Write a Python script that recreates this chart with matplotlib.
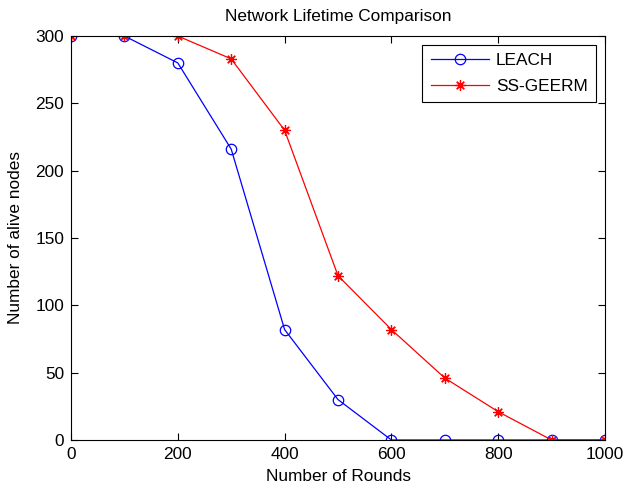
import matplotlib
matplotlib.use('Agg')
import matplotlib.pyplot as plt

plt.rcParams['font.family'] = ['Liberation Sans', 'DejaVu Sans']

rounds = [0, 100, 200, 300, 400, 500, 600, 700, 800, 900, 1000]
leach = [300, 300, 280, 216, 82, 30, 0, 0, 0, 0, 0]
ss_geerm = [300, 300, 300, 283, 230, 122, 82, 46, 21, 0, 0]

fs = 12.4

fig = plt.figure(figsize=(6.25, 4.91), dpi=100)
ax = fig.add_axes([0.1136, 0.1039, 0.8544, 0.8228])

ax.plot(rounds, leach, color='blue', linewidth=0.9, marker='o', markersize=7.5,
        markerfacecolor='none', markeredgecolor='blue', markeredgewidth=0.9, label='LEACH')
ax.plot(rounds, ss_geerm, color='red', linewidth=0.9, marker=(8, 2, 0), markersize=7.5,
        markeredgecolor='red', markeredgewidth=0.9, label='SS-GEERM')

ax.set_xlim(0, 1000)
ax.set_ylim(0, 300)
ax.set_xticks(range(0, 1001, 200))
ax.set_yticks(range(0, 301, 50))
ax.tick_params(direction='in', top=True, right=True, labelsize=fs, length=5, width=0.8, pad=5)
for s in ax.spines.values():
    s.set_linewidth(0.8)

ax.set_title('Network Lifetime Comparison', fontsize=fs, pad=11)
ax.set_xlabel('Number of Rounds', fontsize=fs, labelpad=5)
ax.set_ylabel('Number of alive nodes', fontsize=fs, labelpad=9)

leg = ax.legend(loc='upper right', fontsize=fs, fancybox=False, edgecolor='black',
                framealpha=1, borderaxespad=0.5, handlelength=3.4, handletextpad=0.4,
                labelspacing=0.6, borderpad=0.5)
leg.get_frame().set_linewidth(0.8)

fig.savefig('out.png', dpi=100)
